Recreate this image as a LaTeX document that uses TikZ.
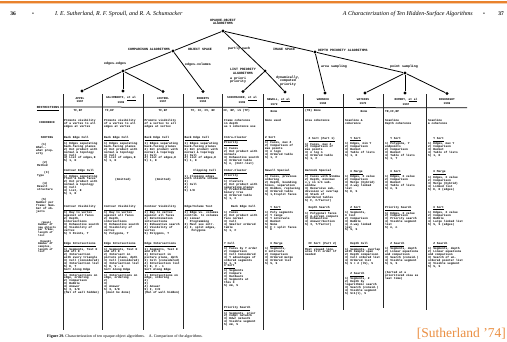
\documentclass[tikz,border=0pt]{standalone}
\usepackage{fontspec}
\setmainfont{Liberation Serif}
\newfontfamily\tw{Liberation Mono}
\definecolor{orng}{RGB}{233,130,45}
\newcommand\tb[4]{\node[blk] (#1) at (#2,#3) {#4};}
\begin{document}
\begin{tikzpicture}[x=1pt,y=-1pt,
 dot/.style={circle,fill=black,inner sep=0pt,minimum size=3.4pt},
 edge/.style={line width=0.8pt},
 tl/.style={inner sep=0pt,align=center,font=\tw\bfseries\fontsize{3.3}{3.2}\selectfont},
 blk/.style={anchor=north west,inner sep=0pt,align=left,font=\tw\bfseries\fontsize{2.9}{2.95}\selectfont},
 hdr/.style={inner sep=0pt,align=center,font=\tw\bfseries\fontsize{2.9}{3.2}\selectfont},
 rl/.style={anchor=north west,inner sep=0pt,align=left,font=\tw\bfseries\fontsize{2.9}{3.0}\selectfont},
 rls/.style={rl,font=\tw\bfseries\fontsize{2.7}{2.6}\selectfont},
 vr/.style={line width=0.65pt,black!85},
]
\fill[white] (0,0) rectangle (507,341);
\useasboundingbox (0,0) rectangle (507,341);
\fill[orng] (0,1.2) rectangle (507,3.4);
\fill[orng!40] (0,3.4) rectangle (507,4.2);

% running heads
\node[font=\bfseries\fontsize{5.5}{6}\selectfont,inner sep=0pt] (pg36) at (13,14) {36};
\node[font=\fontsize{5.5}{6}\selectfont,inner sep=0pt] (b36) at (33,14) {•};
\node[font=\itshape\fontsize{6}{7}\selectfont,anchor=west,inner sep=0pt] (auth) at (55,14) {I. E. Sutherland, R. F. Sproull, and R. A. Schumacker};
\node[font=\itshape\fontsize{6}{7}\selectfont,anchor=east,inner sep=0pt] (ttl) at (473,14) {A Characterization of Ten Hidden-Surface Algorithms};
\node[font=\fontsize{5.5}{6}\selectfont,inner sep=0pt] (b37) at (484,14) {•};
\node[font=\bfseries\fontsize{5.5}{6}\selectfont,inner sep=0pt] (pg37) at (501,14) {37};

% tree
\node[dot] (root) at (223,31) {};
\node[dot] (comp) at (173,51) {};
\node[dot] (dep) at (315,52) {};
\node[dot] (ee) at (123,71) {};
\node[dot] (lp) at (265,71) {};
\node[dot] (ps) at (405,73) {};
\node[dot] (l1) at (82,91) {};
\node[dot] (l2) at (123,91) {};
\node[dot] (l3) at (163,91.5) {};
\node[dot] (l4) at (203,91.5) {};
\node[dot] (l5) at (243,91.5) {};
\node[dot] (l6) at (285,92) {};
\node[dot] (l7) at (325,93) {};
\node[dot] (l8) at (365,93) {};
\node[dot] (l9) at (405,93) {};
\node[dot] (l10) at (447,93.5) {};
\draw[edge] (root) -- (comp);
\draw[edge] (root) -- (lp);
\draw[edge] (root) -- (dep);
\draw[edge] (dep) -- (ps);
\draw[edge] (dep) -- (l7);
\draw[edge] (comp) -- (ee);
\draw[edge] (comp) -- (l4);
\draw[edge] (ee) -- (l1);
\draw[edge] (ee) -- (l2);
\draw[edge] (ee) -- (l3);
\draw[edge] (lp) -- (l5);
\draw[edge] (lp) -- (l6);
\draw[edge] (ps) -- (l8);
\draw[edge] (ps) -- (l9);
\draw[edge] (ps) -- (l10);

\node[tl] (troot) at (223,22.2) {OPAQUE-OBJECT\\ALGORITHMS};
\node[tl,anchor=east] (tcomp) at (170,49) {COMPARISON ALGORITHMS};
\node[tl,anchor=west] (tobj) at (188,49) {OBJECT SPACE};
\node[tl,anchor=west] (tpart) at (228,49) {partly each};
\node[tl,anchor=west] (timg) at (273,49) {IMAGE SPACE};
\node[tl,anchor=west] (tdep) at (318,50) {DEPTH PRIORITY ALGORITHMS};
\node[tl,anchor=west] (tarea) at (321,66.5) {area sampling};
\node[tl,anchor=west] (tpt) at (390,66.5) {point sampling};
\node[tl,anchor=west] (tee) at (104,64) {edges-edges};
\node[tl,anchor=west] (tev) at (185,64.5) {edges-volumes};
\node[tl] (tlp) at (243,71.5) {LIST PRIORITY\\ALGORITHMS};
\node[tl,anchor=west,align=left] (tap) at (230,80.5) {a priori\\priority};
\node[tl] (tdyn) at (288,81) {dynamically,\\computed\\priority};

% table rules
\draw[line width=0.75pt] (60,107) -- (467,107.8);
\foreach \x/\e in {63/330,102.5/330,143/330,183/329,222.5/330,263.5/330,303.5/310,343.5/310,383.5/308,426.5/310}
  \draw[vr] (\x,94) -- (\x,\e);

% column headers
\node[hdr] (h1) at (80,100.3) {APPEL\\1967};
\node[hdr] (h2) at (121,100.3) {GALIMBERTI, \underline{et al}\\1969};
\node[hdr] (h3) at (163,100.3) {LOUTREL\\1967};
\node[hdr] (h4) at (203,100.3) {ROBERTS\\1963};
\node[hdr] (h5) at (242,100.3) {SCHUMACKER, \underline{et al}\\1969};
\node[hdr,align=left,anchor=west] (h6) at (267,101.5) {NEWELL, \underline{et al}\\~~1972};
\node[hdr] (h7) at (323,101.5) {WARNOCK\\1968};
\node[hdr] (h8) at (363,101.5) {WATKINS\\1970};
\node[hdr] (h9) at (406,101.5) {ROMNEY, \underline{et al}\\1967};
\node[hdr] (h10) at (447,101.5) {BOUKNIGHT\\1969};

% restrictions
\node[hdr] (r1) at (78,110.5) {TF,EP};
\node[hdr,anchor=west] (r2) at (105,110.5) {TF,EP};
\node[hdr] (r3) at (163,110.5) {TF,EP};
\node[hdr] (r4) at (203,110.8) {TF, CC, CV, NF};
\node[hdr,anchor=west] (r5) at (223.5,110.5) {CF, NP, LS (TP)};
\node[hdr] (r6) at (274,111.2) {None};
\node[hdr,anchor=west] (r7) at (305,111.2) {(TB) None};
\node[hdr] (r8) at (364,111.5) {None};
\node[hdr,anchor=west] (r9) at (385,111.5) {TR,CF,NP};

% row labels
\node[hdr,font=\tw\bfseries\fontsize{3.1}{3.2}\selectfont] (rres) at (48,108.6) {\underline{RESTRICTIONS}};
\node[hdr] (rcoh) at (47,123) {COHERENCE};
\node[hdr] (rsort) at (47,138) {SORTING};
\node[rl] (q1) at (36,143.5) {~~~(1)\\What--\\what prop-\\erty};
\node[rl] (q2) at (37,161.5) {~~~(2)\\Method};
\node[rl] (q3) at (37,171.5) {~~~~(3)\\Type};
\node[rl] (q4) at (37,182) {~~~(4)\\Result\\structure};
\node[rl] (q5) at (36,198) {~~~(5)\\Number per\\frame; Num-\\ber of ob-\\jects};
\node[rls] (q6) at (38,221) {~~(mean)\\Number of\\new objects\\per frame,\\length of\\list};
\node[rls] (q7) at (38,240.2) {~(bound)\\Number of\\samples,\\length of\\list};

% APPEL
\tb{a0}{64}{119}{Promote visibility\\of a vertex to all\\edges at vertex}
\tb{a1}{64}{136.2}{\underline{Back Edge Cull}\\1) Edges separating\\back-facing planes\\2) Dot product with\\normal \& topology\\3) Cull\\4) List of edges,E\\5) 1, E}
\tb{a2}{64}{169}{\underline{Contour Edge Cull}\\1) Edges separating\\front \& back faces\\2) Dot product with\\normal \& topology\\3) Cull\\4) List, E\\5) 1, E}
\tb{a3}{64}{205.6}{\underline{Contour Visibility}\\1) Ray to vertex\\against all faces\\2) Depth,\\intersections\\3) Exhaustive search\\4) Visibility of\\vertex\\5) V Points, T}
\tb{a4}{64}{242}{\underline{Edge Intersections}\\1) Segments, Test E\\and all E\\2) Intersection\\with every triangle\\3) Cell (considered)\\4) Intersection list\\5) E, T}
\tb{a5}{64}{268}{\underline{Sort Along Edge}\\1) Intersections on\\edge, ordering\\2) Comparison\\3) Bubble\\4) Answer\\5) I, I/E\\(Mal of wall hidden)}

% GALIMBERTI
\tb{g0}{104}{119}{Promote visibility\\of a vertex to all\\edges at vertex}
\tb{g1}{104}{136.2}{\underline{Back Edge Cull}\\1) Edges separating\\back-facing planes\\2) Dot product with\\normal \& topology\\3) Cull\\4) List of edges,E\\5) 1, E}
\node[hdr] (g2) at (123,180) {(Omitted)};
\tb{g3}{104}{205.6}{\underline{Contour Visibility}\\1) Ray to vertex\\against all faces\\2) Depth,\\intersections\\3) Exhaustive search\\4) Visibility of\\vertex\\5) Polygons, T}
\tb{g4}{104}{242}{\underline{Edge Intersections}\\1) Segments, Test E\\and all E\\2) Intersect in\\picture plane, dpth\\3) Cell (considered)\\4) Intersection list\\5) E, V - 1}
\tb{g5}{104}{268}{\underline{Sort Along Edge}\\1) Intersections on\\edge, ordering\\2)\\3)\\4) Answer\\5) I, I/E\\~(must be done)}

% LOUTREL
\tb{o0}{144.5}{119}{Promote visibility\\of a vertex to all\\edges at vertex}
\tb{o1}{144.5}{136.2}{\underline{Back Edge Cull}\\1) Edges separating\\back-facing planes\\2) Dot product with\\normal \& topology\\3) Cull\\4) List of edges,E\\5) 1, E}
\node[hdr] (o2) at (163,180) {(Omitted)};
\tb{o3}{144.5}{205.6}{\underline{Contour Visibility}\\1) Ray to vertex\\against all faces\\2) Determination\\intersections\\3) Exhaustive search\\4) Visibility of\\vertex\\5) Polygons, T}
\tb{o4}{144.5}{242}{\underline{Edge Intersections}\\1) Segments, Test E\\and all E\\2) Intersect in\\picture plane, dpth\\3) Cell (considered)\\4) Intersection list\\5) E, V - 1}
\tb{o5}{144.5}{268}{\underline{Sort Along Edge}\\1) Intersections on\\edge, ordering\\2)\\3)\\4) Answer\\5) I, I/E\\(Mal of wall hidden)}

% ROBERTS
\tb{e1}{184.5}{136.2}{\underline{Back Edge Cull}\\1) Edges separating\\back-facing planes\\2) Dot product with\\normal \& topology\\3) Cull\\4) List of edges,E\\5) 1, E}
\tb{e2}{184.5}{169}{~~~~~\underline{Clipping Cull}\\1) Clipping edges\\with visible volume\\2)\\3) Cull\\4)\\5) 1/E}
\tb{e3}{184.5}{205.6}{\underline{Edge/Volume Test}\\1) Edge vs. volumes\\contrib. to volumes\\2) Linear\\~~~Programming\\3) Must see intr.\\4) I, split edges,\\~~~~Polygons}

% SCHUMACKER
\tb{s0}{224}{119}{Frame coherence\\in depth\\as 1 coherence use}
\tb{s1}{224}{136.2}{\underline{Intra-Cluster}\\\underline{Priority}\\1) Faces\\2) Dot product with\\normals\\3) Exhaustive search\\4) Ordered table\\5) n, (Intr.list)}
\tb{s2}{224}{169}{\underline{Inter-Cluster}\\\underline{Priority}\\1) Clusters\\2) Dot product with\\separating planes\\3) Predetermined\\binary tree\\4) Ordered table\\5) 1, C}
\tb{s3}{224}{205.6}{~~~~\underline{Back Edge Cull}\\1) Faces\\2) Dot product with\\face normal\\3) Cull\\4) Smaller ordered\\table\\5) 1, F}
\tb{s4}{224}{242}{\underline{Y Cull}\\1) Faces by Y order\\2) Comparison\\3) Cell Considered\\4) Y advantages of\\ordered segments\\5) 1, S}
\tb{s5}{224}{264.5}{\underline{X Sort}\\1) Segments\\2) Compare\\3) Hardware\\4) Segments at\\this X\\5) nm, S}
\tb{s6}{224}{306}{\underline{Priority Search}\\1) Segments, prior\\2) Compt network\\3) Hdwr network\\4) Visible segment\\5) nm, S}

% NEWELL
\tb{n0}{265}{119}{None used}
\tb{n1}{265}{136.5}{\underline{Z Sort}\\1) Faces, max Z\\2) Comparison of\\max points\\3) n logn\\4) Ordered table\\5) 1, F}
\tb{n2}{265}{169.5}{\underline{Newell Special}\\1) Faces, previous\\ordering\\2) Depth, bounding\\boxes, separation\\3) Hidden, replacing\\4) Ordered table\\5) 1,F+split faces}
\tb{n3}{265}{206}{~~~\underline{Y Sort}\\1) Poly segments\\2) Y range\\3) Y intervals\\4) Bucket\\5) None\\6) F + split faces\\~~~E}
\tb{n4}{265}{242}{~~~\underline{X Merge}\\1) Segments,\\X intervals\\2) Comparison\\3) Ordered merge\\4) Ordered list\\5) S, S}

% WARNOCK
\tb{w0}{305}{119}{Area coherence}
\tb{w1}{305}{137}{~~\underline{Z Sort (Part 1)}\\1) Faces, max Z\\2) Comparison of\\max points\\3) n log n\\4) Ordered table\\5) 1, F}
\tb{w2}{305}{169.5}{\underline{Warnock Special}\\1) Faces with Window\\2) Depth, min/max\\x,y in 1/4 sub-\\window\\3) Recursive sub-\\division w/ overlap\\4) Stack of\\unordered tables\\5) F, F/factor)}
\tb{w3}{305}{206}{~~\underline{Depth Search}\\1) Polygonal faces\\2) A-screen compare\\3) Exhaustive\\4) Answer/Section\\5) I, T/factor)}
\tb{w4}{305}{242}{~~\underline{FF Sort (Part 2)}\\Most viewed line,\\area fill order if\\needed}

% WATKINS
\tb{k0}{345}{119.5}{Scanline \&\\coherence}
\tb{k1}{345}{137}{~~~\underline{Y Sort}\\1) Edges, min Y\\2) Comparison\\3) Bucket\\4) Table of lists\\5) 1, E}
\tb{k2}{345}{170}{~~~\underline{X Merge}\\1) Edges, X value\\2) Comparison\\3) Merge (hybrid)\\4) 2-way linked\\list\\5) E, S}
\tb{k3}{345}{206}{~~~\underline{Z Sort}\\1) Segments,\\X list\\2) Comparison\\3) Bubble\\4) 2-way linked\\list\\5) S, S}
\tb{k4}{345}{242}{~~~\underline{Depth Cull}\\1) Segments, overlap\\with sample span\\2) Depth comparison\\3) Cull ordered list\\4) Ordered list\\5) S + 2 (lS), S}
\tb{k5}{345}{272}{~~~\underline{Z Search}\\1) Segments, Z\\2) Depth by\\logarithmic search\\3) Search (consid.)\\4) Visible segment\\5) S+1(l), S}

% ROMNEY
\tb{m0}{385}{119.5}{Scanline\\Depth coherence}
\tb{m1}{385}{137.5}{~~~\underline{Y Sort}\\1) Polygons, Y\\endpoints\\2) Comparison\\3) Bucket\\4) Table of lists\\5) 1, T}
\tb{m2}{385}{170.5}{~~~\underline{X Sort}\\1) Edges, X value\\2) Comparison\\3) Bucket\\4) Table of lists\\5) n, S}
\tb{m3}{385}{206}{\underline{Priority Search}\\1) Edges, X value\\2) Comparison\\3) Priority search\\4) Visible segment\\list\\5) n, n}
\tb{m4}{385}{242}{~~~\underline{Z Search}\\1) Segments, depth\\2) Linear equations\\and comparison\\3) Search (consid.)\\4) Visible segment\\5) S, S}
\tb{m5}{385}{271}{(Sorted at a\\prioritized view as\\last time)}

% BOUKNIGHT
\tb{u0}{428}{119.5}{Scanline\\\& coherence}
\tb{u1}{428}{137.5}{~~~\underline{Y Sort}\\1) Edges, max Y\\2) Comparison\\3) Bucket\\4) Table of lists\\5) 1, E}
\tb{u2}{428}{170.5}{~~~\underline{X Merge}\\1) Edges, X value\\2) Comparison\\3) Merge (hybrid)\\4) Linked list\\5) E, E (edges)}
\tb{u3}{428}{206}{~~~\underline{X Sort}\\1) Edges, X value\\2) Comparison\\3) Bubble\\4) Large linked list\\5) S, S (edges)}
\tb{u4}{428}{242}{~~~\underline{Z Search}\\1) Segments, depth\\2) Linear equations\\and comparison\\3) Search of un-\\ordered pointer list\\4) Visible segment\\5) S, S}

% caption and credit
\node[anchor=west,inner sep=0pt,font=\fontsize{4}{5}\selectfont] (cap) at (47,337) {\textbf{Figure 29.}\ Characterization of ten opaque-object algorithms.\quad A. Comparison of the algorithms.};
\node[anchor=east,inner sep=0pt,text=orng!90,font=\fontsize{13.5}{15}\selectfont] (cred) at (506,334) {[Sutherland ’74]};
\end{tikzpicture}
\end{document}
